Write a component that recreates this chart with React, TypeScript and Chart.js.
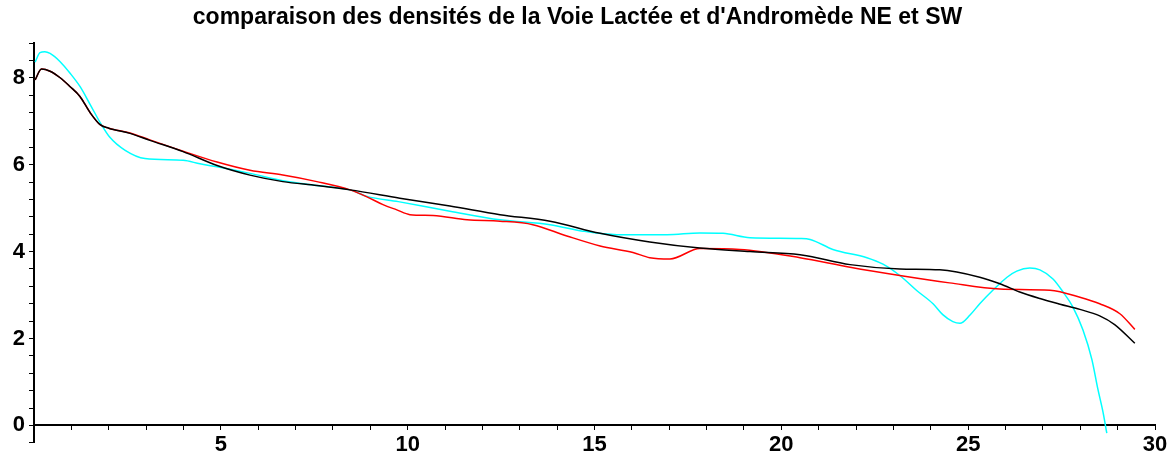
import React, { useEffect, useRef } from "react";
import { Chart, registerables } from "chart.js";

Chart.register(...registerables);

const TITLE = "comparaison des densités de la Voie Lactée et d'Andromède NE et SW";

const blackX = [0.03, 0.2, 0.43, 0.7, 0.96, 1.23, 1.5, 1.77, 2.0, 2.57, 3.1, 3.99, 4.9, 5.78, 6.66, 7.57, 8.46, 9.79, 11.13, 12.47, 13.81, 15.15, 16.48, 17.82, 19.16, 20.5, 21.84, 23.17, 24.24, 25.31, 25.85, 26.38, 26.92, 27.46, 27.99, 28.52, 28.92, 29.46];
const blackY = [7.95, 8.2, 8.15, 8.0, 7.8, 7.57, 7.2, 6.92, 6.84, 6.72, 6.56, 6.3, 5.98, 5.76, 5.61, 5.52, 5.42, 5.23, 5.05, 4.85, 4.7, 4.42, 4.22, 4.08, 4.0, 3.93, 3.7, 3.6, 3.58, 3.41, 3.26, 3.07, 2.92, 2.79, 2.67, 2.52, 2.32, 1.89];

const redX = [0.03, 0.2, 0.43, 0.7, 0.96, 1.23, 1.5, 1.77, 2.0, 2.57, 3.1, 3.99, 4.9, 5.78, 6.66, 7.57, 8.46, 8.91, 9.34, 9.71, 10.06, 10.68, 11.59, 12.47, 13.35, 14.26, 15.15, 16.03, 16.48, 17.02, 17.82, 18.89, 20.5, 21.84, 23.17, 24.5, 25.85, 27.19, 27.99, 28.52, 29.06, 29.46];
const redY = [7.95, 8.2, 8.15, 8.0, 7.8, 7.57, 7.2, 6.92, 6.84, 6.73, 6.57, 6.31, 6.06, 5.87, 5.76, 5.61, 5.42, 5.26, 5.08, 4.96, 4.85, 4.83, 4.73, 4.7, 4.62, 4.36, 4.13, 3.98, 3.86, 3.83, 4.07, 4.05, 3.86, 3.64, 3.45, 3.28, 3.14, 3.11, 2.95, 2.8, 2.57, 2.21];

const cyanX = [0.03, 0.16, 0.29, 0.43, 0.7, 0.96, 1.23, 1.5, 1.77, 2.03, 2.44, 2.97, 3.99, 4.44, 4.9, 5.78, 6.66, 7.57, 8.46, 8.91, 9.75, 11.13, 12.47, 13.81, 14.69, 15.6, 16.94, 17.82, 18.44, 19.16, 20.5, 20.77, 21.38, 22.29, 22.72, 23.17, 23.63, 24.06, 24.32, 24.59, 24.78, 25.05, 25.31, 25.66, 26.04, 26.3, 26.65, 26.92, 27.27, 27.54, 27.8, 28.07, 28.31, 28.47, 28.61, 28.71];
const cyanY = [8.36, 8.58, 8.6, 8.56, 8.37, 8.11, 7.8, 7.39, 6.97, 6.63, 6.33, 6.14, 6.1, 6.02, 5.95, 5.8, 5.63, 5.52, 5.42, 5.27, 5.15, 4.93, 4.73, 4.62, 4.47, 4.39, 4.39, 4.43, 4.42, 4.32, 4.3, 4.28, 4.05, 3.86, 3.71, 3.45, 3.1, 2.8, 2.55, 2.39, 2.35, 2.54, 2.8, 3.11, 3.41, 3.55, 3.62, 3.58, 3.37, 3.07, 2.73, 2.2, 1.52, 0.84, 0.3, -0.18];

const xLabels = [5, 10, 15, 20, 25, 30];
const yLabels = [0, 2, 4, 6, 8];

const toPoints = (xs: number[], ys: number[]) => xs.map((x, i) => ({ x, y: ys[i] }));

export default function App() {
  const ref = useRef<HTMLCanvasElement>(null);
  useEffect(() => {
    document.body.style.margin = "0";
    const ctx = ref.current!;
    const mk = (label: string, xs: number[], ys: number[], color: string) => ({
      label,
      data: toPoints(xs, ys),
      borderColor: color,
      backgroundColor: color,
      borderWidth: 1.5,
      pointRadius: 0,
      showLine: true,
      cubicInterpolationMode: "monotone" as const,
      clip: false as any,
    });
    const chart = new Chart(ctx, {
      type: "scatter",
      data: {
        datasets: [
          mk("Voie Lactée", blackX, blackY, "#000000"),
          mk("Andromède NE", redX, redY, "#ff0000"),
          mk("Andromède SW", cyanX, cyanY, "#00ffff"),
        ],
      },
      options: {
        animation: false,
        responsive: false,
        maintainAspectRatio: false,
        layout: { padding: { top: 0, right: 19, bottom: 0, left: 0 } },
        plugins: {
          legend: { display: false },
          tooltip: { enabled: false },
          title: {
            display: true,
            text: TITLE,
            color: "#000",
            font: { family: "Liberation Sans", size: 23, weight: "bold" },
            padding: { top: 4, bottom: 11.4 },
          },
        },
        scales: {
          x: {
            type: "linear",
            min: 0,
            max: 30,
            position: { y: 0 } as any,
            afterFit: (s: any) => {
              s.height = 12.4;
            },
            border: { display: true, color: "#000", width: 2 },
            grid: { drawOnChartArea: false, drawTicks: true, tickLength: 4, color: "#000" },
            ticks: {
              stepSize: 1,
              autoSkip: false,
              maxRotation: 0,
              padding: 2,
              color: "#000",
              font: { family: "Liberation Sans", size: 22, weight: "bold" },
              callback: (v: any) => {
                const n = Math.round(Number(v) * 10) / 10;
                return xLabels.includes(n) ? String(n) : "";
              },
            },
          },
          y: {
            type: "linear",
            min: -0.4,
            max: 8.8,
            position: "left",
            afterFit: (s: any) => {
              s.width = 34;
            },
            border: { display: true, color: "#000", width: 2 },
            grid: { drawOnChartArea: false, drawTicks: true, tickLength: 5, color: "#000" },
            ticks: {
              stepSize: 0.4,
              autoSkip: false,
              padding: 4,
              color: "#000",
              font: { family: "Liberation Sans", size: 22, weight: "bold" },
              callback: (v: any) => {
                const n = Math.round(Number(v) * 10) / 10;
                return yLabels.includes(n) ? String(n) : "";
              },
            },
          },
        },
      },
    });
    return () => chart.destroy();
  }, []);
  return (
    <div style={{ width: 1174, height: 460 }}>
      <canvas ref={ref} width={1174} height={460} style={{ display: "block" }} />
    </div>
  );
}
